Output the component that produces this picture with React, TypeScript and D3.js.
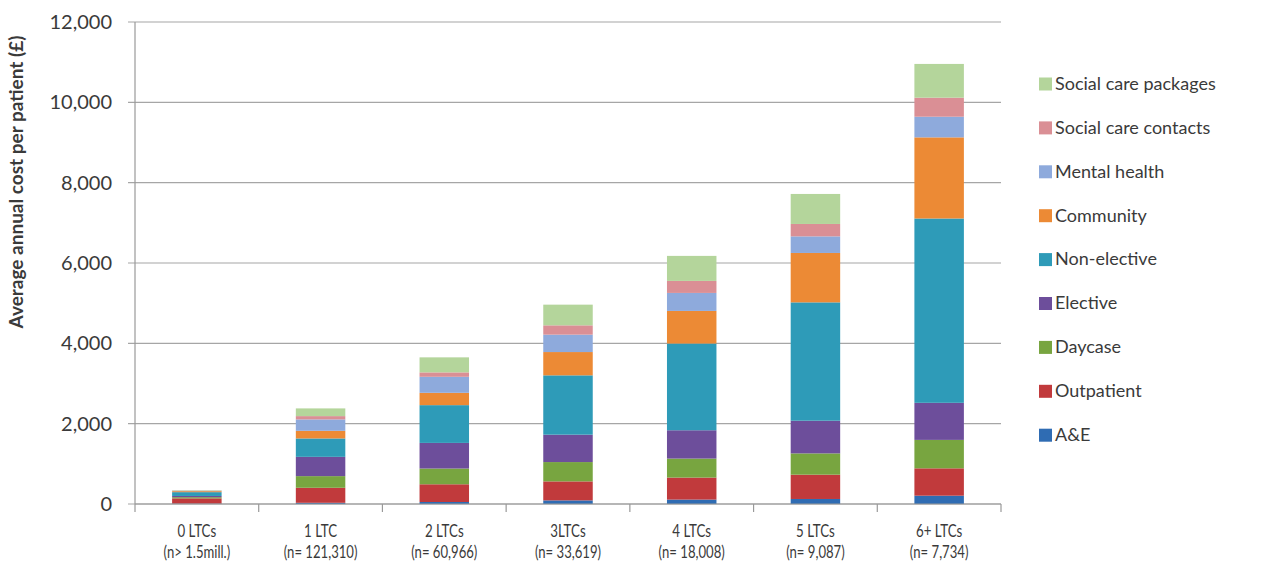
import React from "react";
import * as d3 from "d3";

const categories = ["0 LTCs", "1 LTC", "2 LTCs", "3LTCs", "4 LTCs", "5 LTCs", "6+ LTCs"];
const categoryCounts = ["(n> 1.5mill.)", "(n= 121,310)", "(n= 60,966)", "(n= 33,619)", "(n= 18,008)", "(n= 9,087)", "(n= 7,734)"];

const seriesNames = [
  "A&E",
  "Outpatient",
  "Daycase",
  "Elective",
  "Non-elective",
  "Community",
  "Mental health",
  "Social care contacts",
  "Social care packages",
];

const aeValues = [10, 30, 50, 90, 110, 125, 207];
const outpatientValues = [130, 374, 441, 473, 548, 605, 681];
const daycaseValues = [30, 290, 392, 481, 473, 530, 708];
const electiveValues = [30, 480, 638, 682, 705, 814, 923];
const nonElectiveValues = [95, 458, 940, 1477, 2159, 2946, 4589];
const communityValues = [25, 190, 307, 580, 812, 1230, 2020];
const mentalHealthValues = [10, 284, 399, 433, 448, 413, 514];
const socialContactsValues = [5, 82, 110, 232, 299, 309, 474];
const socialPackagesValues = [10, 192, 374, 515, 623, 747, 840];

const seriesColors = [
  "#2f6cb3",
  "#c13a3c",
  "#78a540",
  "#6d4e9b",
  "#2e9bb8",
  "#ec8a35",
  "#8eaadc",
  "#da8f95",
  "#b4d59b",
];

const yTicks = [0, 2000, 4000, 6000, 8000, 10000, 12000];

const W = 1261;
const H = 577;
const plot = { left: 135, right: 1001, top: 22, bottom: 504 };
const FONT = "Lato, 'Open Sans', sans-serif";
const TEXT = "#3a3a3a";

export default function App() {
  const seriesValues = [
    aeValues,
    outpatientValues,
    daycaseValues,
    electiveValues,
    nonElectiveValues,
    communityValues,
    mentalHealthValues,
    socialContactsValues,
    socialPackagesValues,
  ];
  const rows = categories.map((c, i) => {
    const r: any = { cat: c };
    seriesNames.forEach((s, j) => (r[s] = seriesValues[j][i]));
    return r;
  });
  const stacked = d3.stack<any>().keys(seriesNames)(rows);

  const x = d3.scaleBand().domain(categories).range([plot.left, plot.right]).padding(0);
  const y = d3.scaleLinear().domain([0, 12000]).range([plot.bottom, plot.top]);
  const barW = x.bandwidth() * 0.4;
  const fmt = d3.format(",");

  const boundaries = categories.map((c) => x(c)!).concat([plot.right]);

  return (
    <svg width={W} height={H} style={{ position: "absolute", left: 0, top: 0, background: "#fff" }}>
      {/* gridlines */}
      {yTicks.map((t) => (
        <line key={"g" + t} x1={plot.left - 7} x2={plot.right} y1={y(t)} y2={y(t)} stroke="#a6a6a6" strokeWidth={1.2} />
      ))}
      {/* y axis */}
      <line x1={plot.left} x2={plot.left} y1={plot.top} y2={plot.bottom} stroke="#999" strokeWidth={1.2} />
      {yTicks.map((t) => (
        <text
          key={"yt" + t}
          x={112}
          y={y(t)}
          dy="0.35em"
          textAnchor="end"
          fontFamily={FONT}
          fontSize={20}
          fill={TEXT}
        >
          {fmt(t)}
        </text>
      ))}
      <text
        transform={`translate(23, ${182}) rotate(-90)`}
        textAnchor="middle"
        fontFamily={FONT}
        fontSize={19}
        fontWeight="bold"
        fill={TEXT}
      >
        Average annual cost per patient (£)
      </text>

      {/* bars */}
      {stacked.map((layer, j) => (
        <g key={layer.key} fill={seriesColors[j]}>
          {layer.map((d, i) => {
            const cx = x(categories[i])! + x.bandwidth() / 2;
            return (
              <rect
                key={i}
                x={cx - barW / 2}
                y={y(d[1])}
                width={barW}
                height={Math.max(0, y(d[0]) - y(d[1]))}
              />
            );
          })}
        </g>
      ))}

      {/* x axis */}
      <line x1={plot.left} x2={plot.right} y1={plot.bottom} y2={plot.bottom} stroke="#999" strokeWidth={1.2} />
      {boundaries.map((bx, i) => (
        <line key={"xt" + i} x1={bx} x2={bx} y1={plot.bottom} y2={plot.bottom + 8} stroke="#999" strokeWidth={1.2} />
      ))}
      {categories.map((c, i) => {
        const cx = x(c)! + x.bandwidth() / 2;
        return (
          <g key={"xl" + i} fontFamily={FONT} fontSize={17.5} fill={TEXT} textAnchor="middle">
            <text transform={`translate(${cx}, 537) scale(0.76, 1)`}>{c}</text>
            <text transform={`translate(${cx}, 558) scale(0.75, 1)`}>{categoryCounts[i]}</text>
          </g>
        );
      })}

      {/* legend */}
      {seriesNames
        .map((s, j) => ({ s, j }))
        .reverse()
        .map(({ s, j }, k) => {
          const cy = 83.5 + k * 43.9;
          return (
            <g key={"lg" + s}>
              <rect x={1039} y={cy - 6} width={13} height={13} fill={seriesColors[j]} />
              <text x={1055} y={cy} dy="0.35em" fontFamily={FONT} fontSize={18} fill={TEXT}>
                {s}
              </text>
            </g>
          );
        })}
    </svg>
  );
}
